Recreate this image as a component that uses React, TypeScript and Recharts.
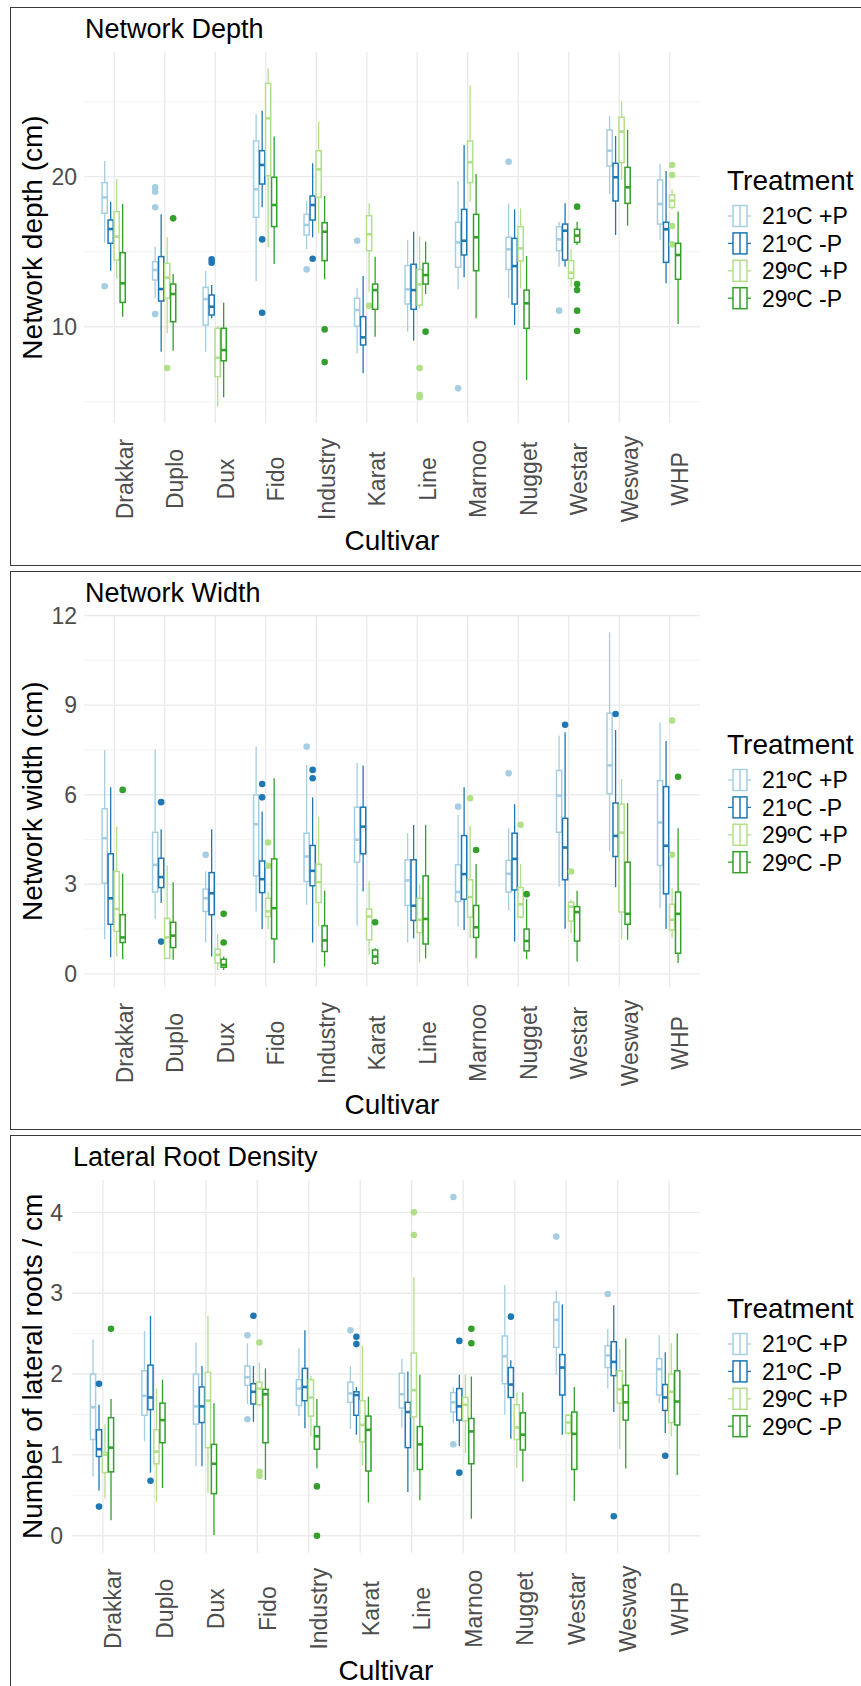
import React from "react";
import { ComposedChart, Bar, XAxis, YAxis, CartesianGrid } from "recharts";

const cultivars = ["Drakkar", "Duplo", "Dux", "Fido", "Industry", "Karat", "Line", "Marnoo", "Nugget", "Westar", "Wesway", "WHP"];
const treatments = ["21ºC +P", "21ºC -P", "29ºC +P", "29ºC -P"];
const colors = ["#A6CEE3", "#1F78B4", "#B2DF8A", "#33A02C"];

// [lower whisker, Q1, median, Q3, upper whisker] per cultivar, per treatment
const depthBoxes = [
  [[15.6, 17.56, 18.62, 19.6, 21.04], [13.73, 15.56, 16.51, 17.11, 18.33], [13.22, 14.44, 16.0, 17.67, 19.84], [10.67, 11.62, 12.89, 14.93, 18.18]],
  [[11.89, 13.11, 13.78, 14.33, 15.33], [8.33, 11.71, 12.51, 14.67, 17.49], [9.56, 11.89, 13.27, 14.22, 15.96], [8.4, 10.33, 12.18, 12.84, 13.51]],
  [[8.33, 10.11, 11.84, 12.62, 13.73], [10.56, 10.78, 11.33, 12.11, 12.78], [4.67, 6.67, 7.93, 9.89, 10.04], [5.29, 7.73, 8.44, 9.89, 11.6]],
  [[13.04, 17.29, 19.16, 22.38, 24.16], [17.96, 19.51, 20.78, 21.73, 24.4], [15.29, 20.07, 23.89, 26.22, 27.22], [14.18, 16.67, 18.11, 19.96, 22.67]],
  [[15.16, 16.11, 16.78, 17.49, 18.4], [15.96, 17.11, 18.11, 18.71, 20.89], [16.22, 18.62, 20.49, 21.73, 23.67], [13.16, 14.4, 16.33, 16.93, 18.71]],
  [[8.22, 10.04, 11.11, 11.89, 12.56], [6.89, 8.78, 9.29, 10.67, 13.38], [12.33, 15.07, 16.16, 17.4, 18.22], [9.33, 11.16, 12.44, 12.84, 14.67]],
  [[9.67, 11.51, 12.49, 14.07, 15.78], [9.07, 11.16, 12.44, 14.16, 16.33], [11.22, 11.44, 12.82, 13.82, 16.0], [12.18, 12.84, 13.44, 14.22, 15.67]],
  [[12.49, 13.96, 15.62, 16.96, 19.73], [13.29, 14.78, 15.73, 17.82, 22.11], [18.33, 19.6, 20.96, 22.38, 26.07], [10.56, 13.73, 15.96, 17.49, 20.18]],
  [[11.89, 13.82, 15.16, 15.96, 18.22], [10.11, 11.51, 14.04, 15.89, 17.82], [12.56, 14.38, 15.22, 16.67, 17.89], [6.44, 9.89, 11.56, 12.44, 14.71]],
  [[14.0, 15.07, 15.82, 16.67, 17.0], [14.0, 14.44, 16.4, 16.84, 18.22], [12.67, 13.22, 13.6, 14.4, 15.16], [15.44, 15.62, 16.07, 16.49, 17.0]],
  [[18.82, 20.71, 21.73, 23.11, 24.04], [16.11, 18.38, 19.96, 20.89, 22.71], [19.8, 20.93, 23.0, 23.96, 25.0], [16.73, 18.22, 19.29, 20.62, 23.11]],
  [[15.78, 16.84, 18.18, 19.78, 20.84], [12.89, 14.29, 16.49, 16.96, 20.38], [17.82, 17.96, 18.4, 18.78, 19.16], [10.18, 13.16, 14.78, 15.56, 17.67]],
];
// [cultivar index, treatment index, value]
const depthOutliers = [
  [0, 0, 12.7], [1, 0, 19.29], [1, 0, 19.0], [1, 0, 17.96], [1, 0, 10.84], [1, 2, 7.24], [1, 3, 17.22],
  [2, 1, 14.49], [2, 1, 14.27], [3, 1, 15.82], [3, 1, 10.93], [4, 0, 13.82], [4, 1, 14.53], [4, 3, 9.82],
  [4, 3, 7.64], [5, 0, 15.73], [5, 2, 11.4], [6, 2, 7.24], [6, 2, 5.44], [6, 2, 5.3], [6, 3, 9.67],
  [7, 0, 5.89], [8, 0, 21.0], [9, 0, 11.07], [9, 3, 18.0], [9, 3, 12.84], [9, 3, 12.44], [9, 3, 11.07],
  [9, 3, 9.71], [11, 2, 20.78], [11, 2, 20.11], [11, 2, 16.71], [11, 2, 15.49],
];

const widthBoxes = [
  [[1.16, 3.04, 4.54, 5.53, 7.5], [0.56, 1.66, 2.53, 4.02, 6.25], [0.58, 1.42, 2.17, 3.43, 4.93], [0.49, 1.05, 1.22, 1.98, 3.35]],
  [[1.83, 2.74, 3.65, 4.74, 7.52], [2.37, 2.89, 3.24, 3.87, 4.84], [0.5, 0.52, 1.22, 1.86, 3.63], [0.47, 0.88, 1.28, 1.73, 3.07]],
  [[1.05, 2.09, 2.53, 2.84, 3.43], [0.58, 1.98, 2.7, 3.39, 4.84], [0.13, 0.36, 0.64, 0.83, 1.34], [0.13, 0.22, 0.3, 0.49, 0.58]],
  [[2.09, 3.28, 5.01, 5.99, 7.61], [1.5, 2.72, 3.17, 3.78, 5.44], [1.5, 1.92, 2.09, 2.53, 2.76], [0.36, 1.17, 2.2, 3.85, 6.55]],
  [[2.31, 3.09, 3.93, 4.71, 7.0], [1.05, 2.95, 3.45, 4.3, 5.91], [1.59, 2.39, 3.07, 3.67, 5.27], [0.25, 0.75, 1.12, 1.61, 2.79]],
  [[1.61, 3.74, 4.49, 5.58, 7.06], [2.76, 4.02, 4.93, 5.58, 6.98], [0.64, 1.14, 1.92, 2.17, 3.09], [0.3, 0.36, 0.58, 0.8, 0.86]],
  [[1.05, 2.29, 3.13, 3.82, 4.71], [1.19, 1.79, 2.28, 3.82, 4.99], [0.38, 1.38, 1.81, 2.53, 2.98], [0.52, 1.0, 1.84, 3.28, 4.99]],
  [[1.59, 2.42, 2.74, 3.65, 5.32], [1.47, 2.5, 3.34, 4.63, 6.25], [1.19, 1.9, 2.57, 3.15, 4.96], [0.52, 1.22, 1.56, 2.29, 3.68]],
  [[2.12, 2.74, 3.35, 3.8, 4.88], [1.08, 2.81, 3.85, 4.71, 5.68], [1.85, 1.9, 2.33, 2.89, 3.68], [0.49, 0.77, 1.1, 1.5, 2.5]],
  [[2.92, 4.74, 5.97, 6.81, 7.97], [1.51, 3.15, 4.23, 5.21, 8.09], [1.36, 1.77, 2.25, 2.4, 2.48], [0.41, 1.1, 2.07, 2.25, 2.78]],
  [[4.1, 6.03, 6.98, 8.73, 11.44], [2.9, 3.93, 4.62, 5.72, 8.17], [1.16, 2.07, 4.73, 5.68, 6.52], [1.14, 1.66, 2.01, 3.74, 5.72]],
  [[2.2, 3.63, 5.07, 6.47, 8.42], [1.5, 2.68, 4.29, 6.27, 7.8], [1.19, 1.47, 1.81, 2.33, 2.87], [0.36, 0.69, 2.01, 2.74, 4.88]],
];
const widthOutliers = [
  [0, 3, 6.16], [1, 1, 5.75], [1, 1, 1.08], [2, 0, 3.99], [2, 3, 2.01], [2, 3, 1.05], [3, 1, 6.36],
  [3, 1, 5.91], [3, 2, 4.4], [3, 2, 3.62], [4, 0, 7.61], [4, 1, 6.83], [4, 1, 6.55], [5, 3, 1.73],
  [7, 0, 5.6], [7, 2, 5.88], [7, 3, 4.15], [8, 0, 6.72], [8, 2, 4.99], [8, 3, 2.67], [9, 1, 8.34],
  [9, 2, 3.43], [10, 1, 8.7], [11, 2, 8.48], [11, 2, 3.99], [11, 3, 6.6],
];

const densityBoxes = [
  [[0.73, 1.19, 1.59, 2.0, 2.43], [0.56, 0.98, 1.07, 1.31, 1.62], [0.46, 0.78, 1.0, 1.03, 1.38], [0.19, 0.79, 1.09, 1.46, 1.69]],
  [[1.17, 1.49, 1.73, 2.04, 2.53], [0.78, 1.56, 1.71, 2.11, 2.72], [0.42, 0.89, 1.04, 1.31, 1.82], [0.59, 1.15, 1.43, 1.64, 1.93]],
  [[0.86, 1.38, 1.6, 2.0, 2.39], [0.86, 1.4, 1.6, 1.84, 2.1], [0.53, 1.09, 1.67, 2.02, 2.72], [0.01, 0.52, 0.89, 1.13, 1.64]],
  [[1.63, 1.86, 1.96, 2.1, 2.38], [1.41, 1.63, 1.78, 1.88, 2.1], [1.6, 1.62, 1.82, 1.9, 2.14], [0.69, 1.15, 1.75, 1.81, 2.07]],
  [[1.48, 1.61, 1.82, 1.93, 2.32], [1.33, 1.67, 1.84, 2.07, 2.54], [1.23, 1.48, 1.71, 1.93, 1.98], [0.83, 1.07, 1.23, 1.35, 1.69]],
  [[1.32, 1.65, 1.76, 1.9, 2.1], [1.25, 1.49, 1.74, 1.78, 1.84], [0.87, 1.16, 1.37, 1.67, 2.35], [0.41, 0.8, 1.31, 1.48, 1.72]],
  [[1.34, 1.58, 1.75, 2.01, 2.19], [0.54, 1.09, 1.53, 1.65, 2.03], [0.79, 1.47, 1.8, 2.26, 3.2], [0.44, 0.82, 1.13, 1.35, 1.99]],
  [[1.39, 1.53, 1.65, 1.77, 1.84], [1.11, 1.43, 1.6, 1.82, 1.99], [1.02, 1.42, 1.62, 1.71, 1.99], [0.21, 0.89, 1.29, 1.45, 1.97]],
  [[1.5, 1.88, 2.22, 2.47, 3.1], [1.2, 1.71, 1.87, 2.08, 2.17], [0.84, 1.19, 1.34, 1.62, 1.77], [0.67, 1.06, 1.25, 1.52, 1.77]],
  [[1.99, 2.33, 2.67, 2.89, 3.03], [1.25, 1.74, 2.08, 2.24, 2.86], [1.25, 1.27, 1.4, 1.49, 1.51], [0.43, 0.82, 1.26, 1.53, 1.84]],
  [[1.82, 2.08, 2.23, 2.35, 2.56], [1.53, 1.98, 2.15, 2.4, 2.85], [1.07, 1.64, 1.81, 2.04, 2.31], [0.83, 1.43, 1.65, 1.86, 2.44]],
  [[1.64, 1.74, 2.06, 2.19, 2.48], [1.27, 1.55, 1.71, 1.87, 2.27], [1.23, 1.4, 1.78, 2.0, 2.38], [0.75, 1.37, 1.66, 2.04, 2.5]],
];
const densityOutliers = [
  [0, 1, 1.88], [0, 1, 0.36], [0, 3, 2.56], [1, 1, 0.68], [3, 0, 2.48], [3, 0, 1.44], [3, 1, 2.72],
  [3, 2, 2.39], [3, 2, 0.79], [3, 2, 0.74], [4, 3, 0.61], [4, 3, 0], [5, 0, 2.54], [5, 1, 2.46],
  [5, 1, 2.37], [6, 2, 4.0], [6, 2, 3.72], [7, 0, 4.19], [7, 0, 1.13], [7, 1, 2.41], [7, 1, 0.78],
  [7, 3, 2.56], [7, 3, 2.38], [8, 1, 2.71], [9, 0, 3.7], [10, 0, 2.99], [10, 1, 0.24], [11, 1, 0.99],
];

const depthTicks = [10, 20];
const depthMinor = [5, 15, 25];
const widthTicks = [0, 3, 6, 9, 12];
const widthMinor = [1.5, 4.5, 7.5, 10.5];
const densityTicks = [0, 1, 2, 3, 4];
const densityMinor = [0.5, 1.5, 2.5, 3.5];

const FONT = "'Liberation Sans', Arial, sans-serif";
const CHART_W = 861;
const CHART_H = 564;
const PLOT_RIGHT = 700;

const panels = [
  { title: "Network Depth", yLabel: "Network depth (cm)", offset: 0, top: 52, bottom: 423, left: 84, tickGap: 7, domain: [3.58, 28.31], ticks: depthTicks, minor: depthMinor, boxes: depthBoxes, outliers: depthOutliers },
  { title: "Network Width", yLabel: "Network width (cm)", offset: 564, top: 51.5, bottom: 423, left: 84, tickGap: 7, domain: [-0.44, 12.0], ticks: widthTicks, minor: widthMinor, boxes: widthBoxes, outliers: widthOutliers },
  { title: "Lateral Root Density", yLabel: "Number of lateral roots / cm", offset: 1128, top: 52, bottom: 424.7, left: 72, tickGap: 9, domain: [-0.21, 4.4], ticks: densityTicks, minor: densityMinor, boxes: densityBoxes, outliers: densityOutliers },
];

function BoxShape(props: any) {
  const { x, y, width, height, payload, t } = props;
  const s = payload.stats[t];
  const top = Math.min(y, y + height);
  const bot = Math.max(y, y + height);
  const k = (bot - top) / (s[4] - s[0]);
  const py = (v: number) => top + (s[4] - v) * k;
  const cx = x + width / 2;
  const col = colors[t];
  return (
    <g>
      <line x1={cx} x2={cx} y1={py(s[4])} y2={py(s[3])} stroke={col} strokeWidth={1.3} />
      <line x1={cx} x2={cx} y1={py(s[1])} y2={py(s[0])} stroke={col} strokeWidth={1.3} />
      <rect x={x + 0.4} y={py(s[3])} width={width - 0.8} height={py(s[1]) - py(s[3])} fill="#fff" stroke={col} strokeWidth={1.5} />
      <line x1={x + 0.4} x2={x + width - 0.4} y1={py(s[2])} y2={py(s[2])} stroke={col} strokeWidth={2.6} />
      {payload.out[t].map((v: number, i: number) => (
        <circle key={i} cx={cx} cy={py(v)} r={3.3} fill={col} />
      ))}
    </g>
  );
}

function XTick(props: any) {
  const { x, y, payload } = props;
  return (
    <text transform={`translate(${x + 18.5},${y + 56}) rotate(-90)`} textAnchor="middle" fontSize={23} fill="#4D4D4D" fontFamily={FONT}>
      {payload.value}
    </text>
  );
}

function YTick(props: any) {
  const { x, y, payload } = props;
  return (
    <text x={x} y={y} dy={8.2} textAnchor="end" fontSize={23} fill="#4D4D4D" fontFamily={FONT}>
      {payload.value}
    </text>
  );
}

function Legend() {
  return (
    <g fontFamily={FONT}>
      <text x={727} y={190} fontSize={28} fill="#000">Treatment</text>
      {treatments.map((tr, i) => {
        const cy = 216 + i * 27.4;
        const col = colors[i];
        return (
          <g key={tr}>
            <line x1={728} x2={751} y1={cy} y2={cy} stroke={col} strokeWidth={1.3} />
            <rect x={733} y={cy - 10.5} width={14} height={21} fill="#fff" stroke={col} strokeWidth={1.5} />
            <line x1={740} x2={740} y1={cy - 10.5} y2={cy + 10.5} stroke={col} strokeWidth={1.5} />
            <text x={762} y={cy + 8.3} fontSize={23} fill="#000">{tr}</text>
          </g>
        );
      })}
    </g>
  );
}

function Panel({ spec }: { spec: any }) {
  const rows = cultivars.map((name, c) => ({
    name,
    stats: spec.boxes[c],
    out: treatments.map((_, t) =>
      spec.outliers.filter((o: number[]) => o[0] === c && o[1] === t).map((o: number[]) => o[2])
    ),
  }));
  const plotW = PLOT_RIGHT - spec.left;
  const pad = (plotW / 12.2) * 0.1;
  const midX = (spec.left + PLOT_RIGHT) / 2;
  const midY = (spec.top + spec.bottom) / 2;
  const xAxisH = 100;
  return (
    <div style={{ position: "absolute", left: 0, top: spec.offset, width: CHART_W, height: CHART_H }}>
      <ComposedChart
        width={CHART_W}
        height={CHART_H}
        data={rows}
        margin={{ top: spec.top, right: CHART_W - PLOT_RIGHT, bottom: CHART_H - spec.bottom - xAxisH, left: 0 }}
        barCategoryGap="25%"
        barGap={0}
      >
        <CartesianGrid horizontalValues={spec.minor} vertical={false} syncWithTicks stroke="#F2F2F2" strokeWidth={0.9} />
        <CartesianGrid syncWithTicks stroke="#EBEBEB" strokeWidth={1.4} />
        <XAxis
          dataKey="name"
          type="category"
          height={xAxisH}
          interval={0}
          tickLine={false}
          axisLine={false}
          tickSize={0}
          tickMargin={0}
          padding={{ left: pad, right: pad }}
          tick={<XTick />}
        />
        <YAxis
          type="number"
          width={spec.left}
          domain={spec.domain}
          allowDataOverflow
          ticks={spec.ticks}
          tickLine={false}
          axisLine={false}
          tickSize={0}
          tickMargin={spec.tickGap}
          tick={<YTick />}
        />
        {treatments.map((tr, t) => (
          <Bar
            key={tr}
            name={tr}
            dataKey={(d: any) => [d.stats[t][0], d.stats[t][4]]}
            isAnimationActive={false}
            shape={(p: any) => <BoxShape {...p} t={t} />}
          />
        ))}
      </ComposedChart>
      <svg width={CHART_W} height={CHART_H} style={{ position: "absolute", left: 0, top: 0, pointerEvents: "none" }}>
        <text x={spec.left + 1} y={spec.top - 14} fontSize={27} fontFamily={FONT} fill="#000">{spec.title}</text>
        <text transform={`translate(42,${midY}) rotate(-90)`} textAnchor="middle" fontSize={28} fontFamily={FONT} fill="#000">
          {spec.yLabel}
        </text>
        <text x={midX} y={spec.bottom + 127} textAnchor="middle" fontSize={28} fontFamily={FONT} fill="#000">Cultivar</text>
        <Legend />
      </svg>
    </div>
  );
}

export default function App() {
  const border = "1.5px solid #3a3a3a";
  return (
    <div style={{ position: "absolute", left: 0, top: 0, width: 861, height: 1686, overflow: "hidden", background: "#fff" }}>
      {panels.map((p) => (
        <Panel key={p.title} spec={p} />
      ))}
      <div style={{ position: "absolute", left: 10, top: 7, width: 900, height: 558.5, border, boxSizing: "border-box", pointerEvents: "none" }} />
      <div style={{ position: "absolute", left: 10, top: 571, width: 900, height: 558.5, border, boxSizing: "border-box", pointerEvents: "none" }} />
      <div style={{ position: "absolute", left: 10, top: 1134.5, width: 900, height: 600, border, boxSizing: "border-box", pointerEvents: "none" }} />
    </div>
  );
}
